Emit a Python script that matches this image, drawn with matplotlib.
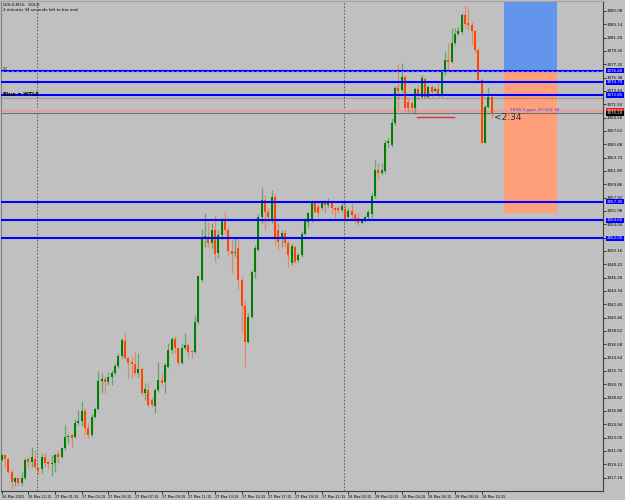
import matplotlib.pyplot as plt
from matplotlib.patches import Rectangle
from matplotlib.transforms import blended_transform_factory

BG = "#C0C0C0"
BULL = "#008000"
BEAR = "#FF4500"

# M15 candles, bar index 0..147 (oldest -> newest)
opens = [
    3019.75, 3020.5, 3019.85, 3018.05, 3016.5, 3017.1, 3016.45, 3017.1, 3019.85, 3019.5,
    3019.85, 3018.65, 3018.45, 3020.2, 3019.5, 3019.15, 3019.25, 3020.6, 3020.2, 3021.5,
    3023.05, 3023.35, 3023.1, 3025.2, 3025.45, 3026.9, 3024.45, 3023.4, 3025.95, 3027.2,
    3031.25, 3031.5, 3031.15, 3031.8, 3032.4, 3033.45, 3034.9, 3037.05, 3034.55, 3034.05,
    3033.7, 3032.35, 3032.95, 3029.55, 3029.95, 3028.5, 3027.65, 3029.95, 3031.4, 3031.15,
    3033.35, 3035.75, 3037.3, 3036.0, 3033.8, 3036.0, 3036.5, 3035.5, 3035.5, 3039.9,
    3045.95, 3052.0, 3052.25, 3051.3, 3053.2, 3049.8, 3052.5, 3054.6, 3053.2, 3050.2,
    3049.8, 3050.55, 3045.95, 3042.15, 3036.95, 3040.6, 3047.15, 3050.3, 3055.05, 3057.6,
    3055.9, 3054.7, 3058.05, 3053.2, 3052.0, 3052.8, 3051.3, 3048.4, 3050.8, 3048.85,
    3049.6, 3052.7, 3054.4, 3054.7, 3057.2, 3056.6, 3056.4, 3057.1, 3056.85, 3057.2,
    3056.4, 3056.35, 3056.1, 3056.2, 3055.15, 3056.0, 3055.4, 3054.9, 3054.3, 3054.6,
    3055.1, 3055.55, 3058.1, 3061.95, 3061.5, 3061.8, 3065.9, 3065.6, 3068.75, 3073.8,
    3073.6, 3075.5, 3071.9, 3071.65, 3070.9, 3073.7, 3072.5, 3075.2, 3072.6, 3074.0,
    3073.5, 3073.7, 3072.9, 3076.25, 3077.95, 3077.7, 3080.4, 3081.8, 3082.0, 3084.5,
    3083.3, 3083.05, 3082.1, 3079.4, 3075.05, 3065.9, 3071.15, 3072.6,
]
highs = [
    3020.6, 3020.6, 3020.0, 3018.3, 3017.3, 3017.2, 3018.05, 3020.1, 3020.2, 3021.7,
    3021.0, 3018.8, 3020.7, 3020.7, 3019.75, 3020.5, 3020.7, 3021.2, 3021.6, 3024.9,
    3023.6, 3023.6, 3025.65, 3027.0, 3028.3, 3027.3, 3025.1, 3026.45, 3027.4, 3032.75,
    3032.4, 3031.9, 3032.6, 3032.85, 3033.8, 3035.3, 3037.45, 3038.4, 3034.8, 3034.8,
    3035.65, 3035.3, 3033.35, 3030.9, 3030.9, 3028.95, 3030.2, 3034.05, 3032.35, 3033.8,
    3036.7, 3037.7, 3037.8, 3036.25, 3036.7, 3038.2, 3036.7, 3035.75, 3040.85, 3046.7,
    3053.3, 3055.65, 3054.4, 3054.2, 3055.4, 3053.2, 3054.9, 3055.9, 3053.7, 3051.8,
    3052.0, 3051.8, 3046.4, 3043.0, 3041.1, 3047.4, 3051.0, 3055.6, 3059.5, 3058.3,
    3056.4, 3059.1, 3058.55, 3054.2, 3053.2, 3053.2, 3051.8, 3051.3, 3051.0, 3049.9,
    3053.0, 3054.9, 3055.9, 3057.6, 3057.6, 3057.35, 3057.6, 3057.6, 3057.8, 3057.6,
    3056.6, 3056.6, 3057.35, 3057.1, 3056.35, 3057.1, 3055.9, 3055.65, 3054.9, 3055.4,
    3056.1, 3058.55, 3063.4, 3062.9, 3062.9, 3066.3, 3066.55, 3069.45, 3074.1, 3077.4,
    3077.5, 3075.8, 3072.4, 3071.9, 3073.95, 3074.3, 3075.8, 3075.5, 3074.3, 3074.3,
    3074.0, 3074.6, 3076.5, 3079.2, 3080.4, 3082.6, 3082.6, 3082.8, 3084.75, 3085.8,
    3085.5, 3083.5, 3082.3, 3079.65, 3075.3, 3071.4, 3073.95, 3072.85,
]
lows = [
    3019.6, 3018.8, 3017.8, 3015.6, 3015.9, 3015.9, 3015.9, 3016.9, 3018.8, 3018.8,
    3018.5, 3017.5, 3017.8, 3018.8, 3018.5, 3017.4, 3018.05, 3019.35, 3020.1, 3021.2,
    3022.2, 3021.45, 3022.9, 3024.85, 3024.7, 3023.6, 3022.9, 3023.15, 3025.8, 3027.0,
    3029.45, 3029.45, 3030.65, 3030.65, 3032.1, 3033.1, 3034.55, 3034.3, 3031.65, 3031.65,
    3032.1, 3031.85, 3029.2, 3028.5, 3027.5, 3027.5, 3026.55, 3029.7, 3030.65, 3029.45,
    3033.1, 3035.3, 3035.3, 3033.55, 3033.7, 3035.75, 3034.55, 3034.55, 3035.3, 3039.6,
    3045.7, 3050.8, 3050.8, 3050.55, 3048.6, 3049.1, 3051.8, 3052.7, 3049.6, 3046.9,
    3049.3, 3044.7, 3038.2, 3033.3, 3036.7, 3040.4, 3046.2, 3050.1, 3054.2, 3053.2,
    3054.4, 3054.2, 3051.0, 3050.3, 3050.8, 3050.8, 3047.9, 3048.1, 3048.4, 3048.6,
    3049.3, 3052.5, 3053.7, 3054.4, 3055.65, 3055.15, 3056.15, 3055.65, 3056.6, 3055.65,
    3054.9, 3055.65, 3055.9, 3054.4, 3054.9, 3054.65, 3054.2, 3053.9, 3054.1, 3054.4,
    3054.65, 3054.9, 3057.8, 3060.5, 3061.2, 3061.5, 3065.35, 3065.35, 3068.5, 3070.7,
    3073.3, 3070.7, 3070.4, 3070.2, 3070.2, 3072.1, 3072.4, 3072.4, 3072.4, 3072.6,
    3073.35, 3072.6, 3072.6, 3075.8, 3076.25, 3077.5, 3080.1, 3081.6, 3081.8, 3082.8,
    3082.3, 3080.1, 3078.9, 3074.8, 3065.8, 3065.8, 3070.9, 3069.45,
]
closes = [
    3020.5, 3019.85, 3018.05, 3016.6, 3017.1, 3016.4, 3017.2, 3019.75, 3019.5, 3020.2,
    3018.8, 3018.3, 3020.2, 3019.35, 3019.1, 3019.35, 3020.5, 3020.2, 3021.5, 3023.1,
    3023.25, 3023.0, 3025.2, 3025.45, 3026.9, 3024.45, 3023.4, 3025.95, 3027.2, 3031.25,
    3031.5, 3031.15, 3031.8, 3032.45, 3033.45, 3034.9, 3037.2, 3034.55, 3033.9, 3033.7,
    3032.35, 3032.95, 3029.55, 3030.05, 3027.75, 3027.75, 3029.95, 3031.4, 3031.0, 3033.5,
    3035.75, 3037.3, 3036.0, 3033.8, 3036.0, 3036.5, 3035.5, 3035.4, 3039.9, 3046.5,
    3052.0, 3052.35, 3051.3, 3053.2, 3049.7, 3052.5, 3054.6, 3053.2, 3050.1, 3049.7,
    3049.9, 3045.95, 3042.15, 3036.95, 3040.6, 3047.15, 3050.55, 3055.15, 3057.6, 3055.9,
    3055.15, 3058.05, 3052.0, 3051.5, 3052.8, 3051.3, 3049.6, 3050.9, 3048.6, 3049.6,
    3052.7, 3054.65, 3055.65, 3057.2, 3055.9, 3055.65, 3057.2, 3056.85, 3057.35, 3056.4,
    3056.1, 3056.15, 3056.7, 3054.8, 3056.0, 3055.4, 3054.65, 3054.3, 3054.65, 3055.15,
    3055.9, 3058.15, 3061.95, 3061.5, 3061.95, 3065.9, 3066.1, 3068.75, 3073.85, 3073.5,
    3075.5, 3070.9, 3070.9, 3070.9, 3073.7, 3072.9, 3075.3, 3072.6, 3074.0, 3073.35,
    3073.7, 3072.9, 3076.25, 3077.95, 3077.7, 3080.4, 3081.8, 3082.1, 3084.5, 3083.2,
    3083.05, 3082.1, 3079.4, 3075.05, 3065.9, 3071.15, 3072.6, 3070.2,
]

price_ticks = [
    3085.08, 3083.14, 3081.20, 3079.26, 3077.32, 3075.38, 3073.44, 3071.50, 3069.56,
    3067.62, 3065.68, 3063.74, 3061.80, 3059.86, 3057.92, 3055.98, 3054.04, 3052.10,
    3050.16, 3048.22, 3046.28, 3044.34, 3042.40, 3040.46, 3038.52, 3036.58, 3034.64,
    3032.70, 3030.76, 3028.82, 3026.88, 3024.94, 3023.00, 3021.06, 3019.12, 3017.18,
]
time_tick_bars = [0, 8, 16, 24, 32, 40, 48, 56, 64, 72, 80, 88, 96, 104, 112, 120, 128, 136, 144]
time_tick_labels = [
    "26 Mar 2025", "26 Mar 22:15", "27 Mar 01:15", "27 Mar 03:15", "27 Mar 05:15",
    "27 Mar 07:15", "27 Mar 09:15", "27 Mar 11:15", "27 Mar 13:15", "27 Mar 15:15",
    "27 Mar 17:15", "27 Mar 19:15", "27 Mar 21:15", "28 Mar 00:15", "28 Mar 02:15",
    "28 Mar 04:15", "28 Mar 06:15", "28 Mar 08:15", "28 Mar 10:15",
]

level_lines = [3076.40, 3074.70, 3072.85, 3057.35, 3054.60, 3052.00]
day_breaks = [10.7, 102.8]
red_level = 3070.57
bid = 3070.20
ask = 3072.42
zone_start, zone_end = 150.7, 166.6
zone_top, zone_mid, zone_bottom = 3090.0, 3076.40, 3055.69
short_line_bars = (124.5, 135.8)
short_line_price = 3069.66

SMALL = 2.9


def main():
    W, H = 625, 500
    fig = plt.figure(figsize=(W / 100, H / 100), dpi=100, facecolor=BG)
    ax = fig.add_axes([1 / W, 9 / H, 602 / W, 490 / H], facecolor=BG)
    ax.set_xlim(-0.21, 180.4)
    ax.set_ylim(3015.24, 3086.53)

    # zone boxes
    ax.add_patch(Rectangle((zone_start, zone_mid), zone_end - zone_start, zone_top - zone_mid,
                           facecolor="#6495ED", edgecolor="none", zorder=1))
    ax.add_patch(Rectangle((zone_start, zone_bottom), zone_end - zone_start, zone_mid - zone_bottom,
                           facecolor="#FFA07A", edgecolor="none", zorder=1))

    for x in day_breaks:
        ax.axvline(x, color="#505050", ls=(0, (2, 2)), lw=0.6, zorder=2)

    ax.axhline(ask, color="#808080", ls=(0, (1, 1)), lw=0.9, zorder=2)
    ax.axhline(red_level, color="#E4A0A0", lw=1.6, zorder=2)
    ax.axhline(bid, color="#707070", lw=0.8, zorder=2)

    # candles
    for i, (o, h, l, c) in enumerate(zip(opens, highs, lows, closes)):
        col = BULL if c >= o else BEAR
        ax.vlines(i, l, h, color=col, alpha=0.45, lw=0.9, zorder=3)
        lo, hi = min(o, c), max(o, c)
        ax.bar(i, max(hi - lo, 0.15), bottom=lo, width=0.65, color=col, lw=0, zorder=4)

    for p in level_lines:
        ax.axhline(p, color="#0000FF", lw=1.5, zorder=5)
    ax.axhline(level_lines[0], color="#8080FF", ls=(0, (3, 3)), lw=0.6, zorder=6)

    ax.plot(short_line_bars, [short_line_price] * 2, color="#E03030", lw=1.0, zorder=5)

    # axes styling
    ax.yaxis.tick_right()
    ax.set_yticks(price_ticks)
    ax.set_yticklabels([f"{p:.2f}" for p in price_ticks])
    ax.tick_params(axis="y", labelsize=SMALL, length=2, width=0.5, pad=1, colors="black")
    ax.set_xticks(time_tick_bars)
    ax.set_xticklabels(time_tick_labels)
    for lbl in ax.get_xticklabels():
        lbl.set_horizontalalignment("left")
    ax.tick_params(axis="x", labelsize=2.5, length=2, width=0.5, pad=1, colors="black")
    for side in ["right", "bottom"]:
        ax.spines[side].set_color("#404040")
        ax.spines[side].set_linewidth(0.8)
    ax.spines["left"].set_color("#808080")
    ax.spines["top"].set_color("#A0A0A0")

    trans = blended_transform_factory(ax.transAxes, ax.transData)
    box_labels = [(p, "#0000FF") for p in level_lines] + [(red_level, "#E02020"), (bid, "#000000")]
    for p, col in box_labels:
        ax.text(1.006, p, f"{p:.2f}", transform=trans, fontsize=SMALL, color="white",
                va="center", ha="left", zorder=10,
                bbox=dict(facecolor=col, edgecolor="none", pad=0.5))

    # on-chart texts
    fig.text(3 / W, 1 - 5 / H, "GOLD,M15:  GOLD", fontsize=SMALL, va="center")
    fig.text(3 / W, 1 - 10 / H, "2 minutes 34 seconds left to bar end", fontsize=SMALL, va="center")
    fig.text(3 / W, 1 - 69 / H, "50", fontsize=SMALL, va="center", color="#404040")
    fig.text(3 / W, 1 - 95 / H, "Blue = WTLS", fontsize=3.6, va="center", weight="bold")
    fig.text(510 / W, 1 - 110 / H, "1828.9 ppm 37:102.34", fontsize=3.2, va="center", color="#6A3CC8")
    fig.text(494 / W, 1 - 117 / H, "<2:34", fontsize=6.5, va="center", color="#303030")

    fig.savefig("out.png", dpi=100, facecolor=BG)
    plt.close(fig)


if __name__ == "__main__":
    main()
